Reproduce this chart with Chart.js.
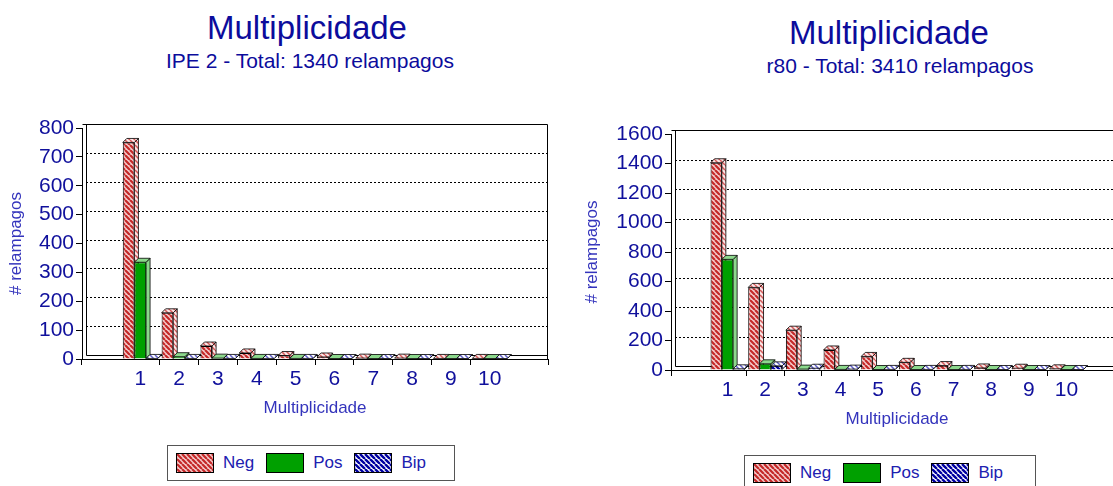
<!DOCTYPE html>
<html>
<head>
<meta charset="utf-8">
<script src="https://cdn.jsdelivr.net/npm/chart.js@4.4.1/dist/chart.umd.min.js"></script>
<style>
html, body { margin: 0; padding: 0; background: #fff; overflow: hidden; }
#pagina { position: relative; width: 1113px; height: 486px; overflow: hidden; font-family: 'Liberation Sans', Arial, sans-serif; }
.titulo { position: absolute; color: #0c0c9c; white-space: nowrap; transform: translateX(-50%); line-height: 1; }
.t1 { font-size: 33px; }
.t2 { font-size: 21px; }
.caixa { position: absolute; top: 0; }
.legenda { position: absolute; border: 1px solid #555; background: #fff; height: 36px; box-sizing: border-box; display: flex; align-items: center; padding-left: 8px; }
.legenda canvas { border: 1px solid #000; display: block; }
.legenda span { color: #2020b0; font-size: 17px; margin-left: 9px; margin-right: 12px; }
</style>
</head>
<body>
<div id="pagina">
  <div class="titulo t1" style="left:307px; top:11px;">Multiplicidade</div>
  <div class="titulo t2" style="left:310px; top:50px;">IPE 2 - Total: 1340 relampagos</div>
  <div class="titulo t1" style="left:889px; top:16px;">Multiplicidade</div>
  <div class="titulo t2" style="left:900px; top:55px;">r80 - Total: 3410 relampagos</div>

  <div class="caixa" style="left:0px;"><canvas id="graficoIpe" width="600" height="430"></canvas></div>
  <div class="caixa" style="left:560px;"><canvas id="graficoR80" width="620" height="440"></canvas></div>

  <div class="legenda" id="legIpe" style="left:167px; top:445px; width:288px;"></div>
  <div class="legenda" id="legR80" style="left:744px; top:455px; width:292px;"></div>
</div>

<script>
// Dados (categorias vazias nas pontas, como no original)
const categorias = ['', '1', '2', '3', '4', '5', '6', '7', '8', '9', '10', ''];
const series = ['Neg', 'Pos', 'Bip'];

// IPE 2 - 1340 relampagos
const negIpe = [null, 750, 160, 45, 21, 12, 7, 3, 3, 2, 2, null];
const posIpe = [null, 335, 8, 3, 2, 2, 1, 1, 1, 1, 1, null];
const bipIpe = [null, 2, 2, 2, 2, 2, 1, 1, 1, 1, 1, null];
const ticksIpe = [0, 100, 200, 300, 400, 500, 600, 700, 800];

// r80 - 3410 relampagos
const negR80 = [null, 1405, 560, 270, 136, 92, 52, 30, 14, 12, 8, null];
const posR80 = [null, 750, 42, 6, 4, 3, 3, 3, 3, 2, 2, null];
const bipR80 = [null, 8, 28, 12, 6, 4, 4, 4, 3, 3, 3, null];
const ticksR80 = [0, 200, 400, 600, 800, 1000, 1200, 1400, 1600];

const PROF = 4; // profundidade do efeito 3D
const FONTE = "'Liberation Sans', Arial, sans-serif";
Chart.defaults.font.family = FONTE;

// cria padrão listrado (diagonal \)
function listras(ctx, fundo, cor, tam, larg) {
    const c = document.createElement('canvas');
    c.width = tam; c.height = tam;
    const g = c.getContext('2d');
    g.fillStyle = fundo;
    g.fillRect(0, 0, tam, tam);
    g.strokeStyle = cor;
    g.lineWidth = larg;
    g.beginPath();
    for (let k = -tam; k <= tam; k += tam) {
        g.moveTo(k, 0);
        g.lineTo(k + tam, tam);
    }
    g.stroke();
    return ctx.createPattern(c, 'repeat');
}

function estilos(ctx) {
    return {
        Neg: { frente: listras(ctx, '#f4cccc', '#c42828', 5, 2.2), face: listras(ctx, '#fbe6e6', '#d65a5a', 5, 1.5), borda: '#000' },
        Pos: { frente: '#00a000', face: '#8cd88c', borda: '#003000' },
        Bip: { frente: listras(ctx, '#ffffff', '#0000a0', 5, 2.4), face: listras(ctx, '#ffffff', '#6060c8', 5, 1.5), borda: '#000' }
    };
}

// parede do fundo, moldura e faces laterais/superiores das barras
const efeito3d = {
    id: 'efeito3d',
    beforeDatasetsDraw(chart) {
        const ctx = chart.ctx;
        const { left, right, top, bottom } = chart.chartArea;
        const escY = chart.scales.y;
        ctx.save();
        ctx.strokeStyle = '#000';
        ctx.lineWidth = 1;

        // linhas de grade pontilhadas na parede do fundo
        ctx.setLineDash([2, 2]);
        escY.ticks.forEach(t => {
            if (t.value === escY.min || t.value === escY.max) return;
            const py = Math.round(escY.getPixelForValue(t.value) - PROF) + 0.5;
            ctx.beginPath();
            ctx.moveTo(left + PROF, py);
            ctx.lineTo(right, py);
            ctx.stroke();
        });
        ctx.setLineDash([]);

        // moldura
        const xt = Math.round(top - PROF) + 0.5;
        const xl = Math.round(left + PROF) + 0.5;
        const yb = Math.round(bottom - PROF) + 0.5;
        const xr = Math.round(right) - 0.5;
        ctx.beginPath();
        ctx.moveTo(Math.round(left) + 0.5, xt);
        ctx.lineTo(xr, xt);
        ctx.lineTo(xr, Math.round(bottom));
        ctx.moveTo(xl, xt);
        ctx.lineTo(xl, yb);
        ctx.lineTo(xr, yb);
        ctx.stroke();

        // faces 3D das barras
        ctx.lineWidth = 0.8;
        chart.data.datasets.forEach((ds, i) => {
            const meta = chart.getDatasetMeta(i);
            meta.data.forEach((barra, j) => {
                if (ds.data[j] === null || ds.data[j] === undefined) return;
                const p = barra.getProps(['x', 'y', 'base', 'width'], true);
                if (!isFinite(p.y) || !isFinite(p.x)) return;
                const l = p.x - p.width / 2, r = p.x + p.width / 2;
                const t = Math.min(p.y, p.base), b = p.base;
                ctx.fillStyle = ds.corFace;
                ctx.strokeStyle = '#000';
                // lateral
                ctx.beginPath();
                ctx.moveTo(r, t);
                ctx.lineTo(r + PROF, t - PROF);
                ctx.lineTo(r + PROF, b - PROF);
                ctx.lineTo(r, b);
                ctx.closePath();
                ctx.fill();
                ctx.stroke();
                // topo
                ctx.beginPath();
                ctx.moveTo(l, t);
                ctx.lineTo(l + PROF, t - PROF);
                ctx.lineTo(r + PROF, t - PROF);
                ctx.lineTo(r, t);
                ctx.closePath();
                ctx.fill();
                ctx.stroke();
            });
        });
        ctx.restore();
    }
};

function criarGrafico(idCanvas, neg, pos, bip, marcas, larguraEixoY, padTituloY, padDireita, padTopo, padBaixo) {
    const ctx = document.getElementById(idCanvas).getContext('2d');
    const est = estilos(ctx);
    const valores = { Neg: neg, Pos: pos, Bip: bip };

    return new Chart(ctx, {
        type: 'bar',
        data: {
            labels: categorias,
            datasets: series.map(nome => ({
                label: nome,
                data: valores[nome],
                backgroundColor: est[nome].frente,
                borderColor: est[nome].borda,
                borderWidth: 1,
                corFace: est[nome].face,
                categoryPercentage: 0.9,
                barPercentage: 1
            }))
        },
        options: {
            responsive: false,
            animation: false,
            layout: { padding: { left: 0, top: padTopo, right: padDireita, bottom: padBaixo } },
            plugins: {
                legend: { display: false },
                tooltip: { enabled: false }
            },
            scales: {
                x: {
                    afterFit: esc => { esc.height = 60; },
                    grid: {
                        offset: true,
                        drawOnChartArea: false,
                        tickLength: 6,
                        color: c => (c.index === 1 || c.index === categorias.length - 1) ? 'rgba(0,0,0,0)' : '#000'
                    },
                    border: { color: '#000' },
                    ticks: { color: '#10109c', font: { size: 21 }, padding: 2, maxRotation: 0, autoSkip: false },
                    title: { display: true, text: 'Multiplicidade', color: '#3434bc', font: { size: 17, weight: 'normal' }, padding: { top: 7, bottom: 0 } }
                },
                y: {
                    min: marcas[0],
                    max: marcas[marcas.length - 1],
                    afterFit: esc => { esc.width = larguraEixoY; },
                    grid: { drawOnChartArea: false, tickLength: 6, color: '#000' },
                    border: { color: '#000' },
                    ticks: {
                        stepSize: marcas[1] - marcas[0],
                        color: '#10109c',
                        font: { size: 21 },
                        padding: 2,
                        callback: v => String(v)
                    },
                    title: { display: true, text: '# relampagos', color: '#3434bc', font: { size: 17, weight: 'normal' }, padding: { top: padTituloY, bottom: 0 } }
                }
            }
        },
        plugins: [efeito3d]
    });
}

const grafIpe = criarGrafico('graficoIpe', negIpe, posIpe, bipIpe, ticksIpe, 82, 6, 52, 128, 11);
const grafR80 = criarGrafico('graficoR80', negR80, posR80, bipR80, ticksR80, 111, 22, 57, 134, 10);

// legenda em HTML, com amostras no mesmo padrão das barras
function montarLegenda(idDiv) {
    const div = document.getElementById(idDiv);
    series.forEach(nome => {
        const amostra = document.createElement('canvas');
        amostra.width = 36;
        amostra.height = 18;
        const g = amostra.getContext('2d');
        g.fillStyle = estilos(g)[nome].frente;
        g.fillRect(0, 0, 36, 18);
        const texto = document.createElement('span');
        texto.textContent = nome;
        div.appendChild(amostra);
        div.appendChild(texto);
    });
}
montarLegenda('legIpe');
montarLegenda('legR80');
</script>
</body>
</html>
